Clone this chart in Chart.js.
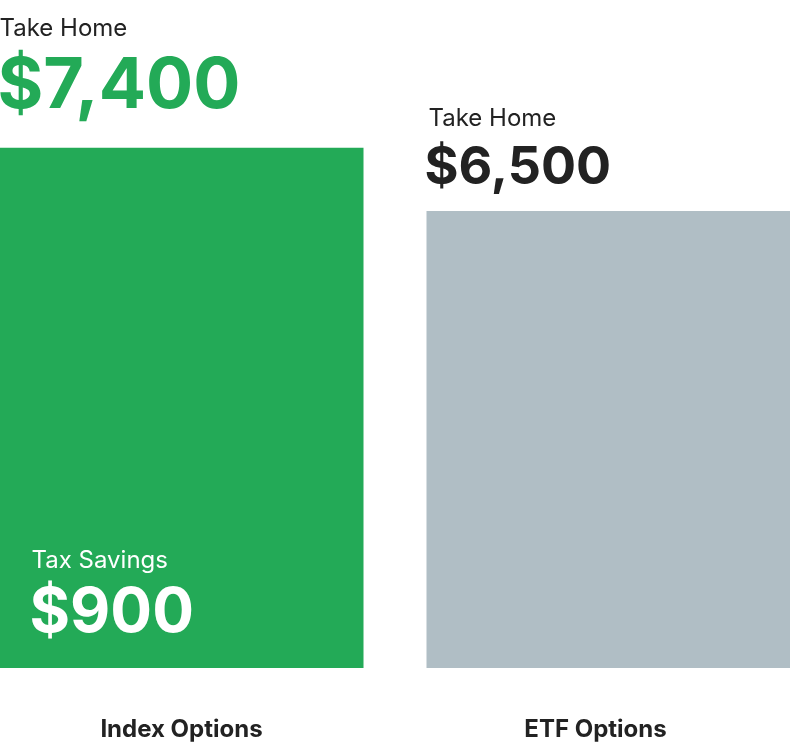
<!DOCTYPE html>
<html>
<head>
<meta charset="utf-8">
<script src="https://cdn.jsdelivr.net/npm/chart.js@4"></script>
<style>
body { margin: 0; overflow: hidden; background: #fff; }
#chart { position: absolute; left: -32px; top: 0; }
</style>
</head>
<body>
<canvas id="chart" width="854" height="754"></canvas>
<script>
const categories = ['Index Options', 'ETF Options'];
const takeHome = [7400, 6500];
const taxSavings = [900, null];
const barColors = ['#23AA57', '#B0BEC5'];
const valueColors = ['#23AA57', '#222222'];

const fmt = v => '$' + v.toLocaleString('en-US');

const labelPlugin = {
	id: 'labels',
	afterDatasetsDraw(chart) {
		const ctx = chart.ctx;
		const meta = chart.getDatasetMeta(0);
		ctx.save();
		ctx.textAlign = 'left';
		ctx.textBaseline = 'alphabetic';
		meta.data.forEach((bar, i) => {
			const left = bar.x - bar.width / 2;
			const big = i === 0 ? 70 : 52;
			ctx.fillStyle = '#222';
			ctx.font = '24px Inter';
			ctx.fillText('Take Home', left + (i === 0 ? 0 : 2), bar.y - (i === 0 ? 112 : 85));
			ctx.fillStyle = valueColors[i];
			ctx.font = 'bold ' + big + 'px Inter';
			ctx.fillText(fmt(takeHome[i]), left - 2, bar.y - (i === 0 ? 40 : 27));
			if (taxSavings[i] != null) {
				ctx.fillStyle = '#fff';
				ctx.font = '24px Inter';
				ctx.fillText('Tax Savings', left + 32, 568);
				ctx.font = 'bold 62px Inter';
				ctx.fillText(fmt(taxSavings[i]), left + 30, 632);
			}
			ctx.textAlign = 'center';
			ctx.fillStyle = '#222';
			ctx.font = 'bold 24px Inter';
			ctx.fillText(categories[i], bar.x + (i === 0 ? 0 : -13), 737);
			ctx.textAlign = 'left';
		});
		ctx.restore();
	}
};

new Chart(document.getElementById('chart'), {
	type: 'bar',
	data: {
		labels: categories,
		datasets: [{
			data: takeHome,
			backgroundColor: barColors,
			barPercentage: 364 / 427,
			categoryPercentage: 1
		}]
	},
	options: {
		responsive: false,
		animation: false,
		layout: { padding: { top: 0, bottom: 86, left: 0, right: 0 } },
		plugins: { legend: { display: false }, tooltip: { enabled: false } },
		scales: {
			x: { display: false },
			y: { display: false, min: 0, max: 9500 }
		}
	},
	plugins: [labelPlugin]
});
</script>
</body>
</html>
